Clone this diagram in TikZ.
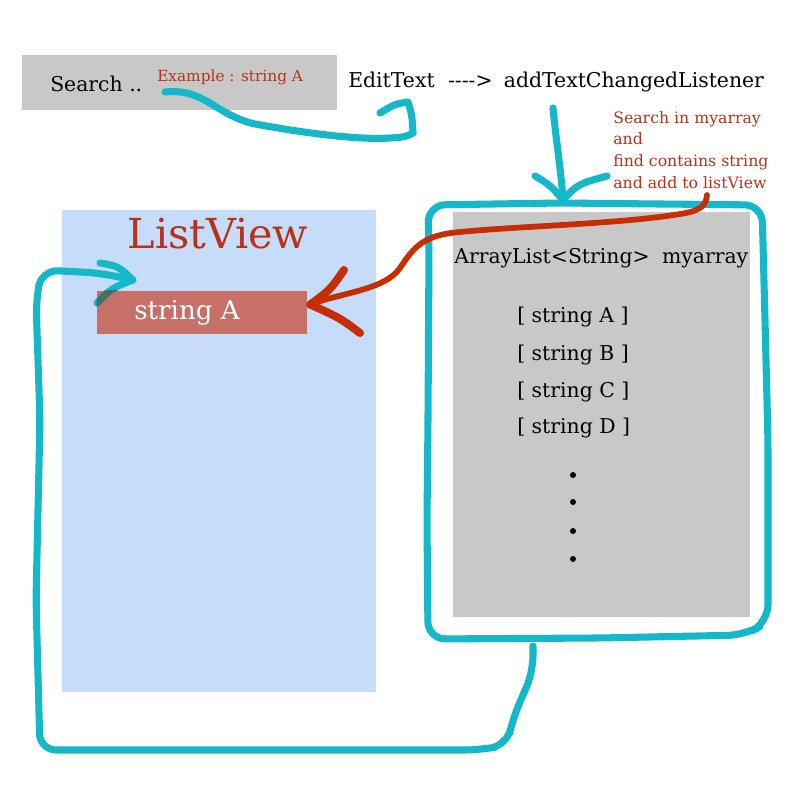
\documentclass[tikz,border=0pt]{standalone}
\usepackage{fontspec}
\setmainfont{DejaVu Serif}
\usetikzlibrary{positioning,calc,fit}

\definecolor{panelgray}{RGB}{200,200,200}
\definecolor{listblue}{RGB}{197,220,250}
\definecolor{hitred}{RGB}{199,112,104}
\definecolor{notered}{RGB}{183,50,25}
\definecolor{penred}{RGB}{200,45,0}
\definecolor{pencyan}{RGB}{20,184,200}
\definecolor{pendark}{RGB}{70,115,95}

\begin{document}
\begin{tikzpicture}[
    x=0.75pt, y=-0.75pt,
    panel/.style={fill=panelgray, inner sep=0pt},
    listpanel/.style={fill=listblue, inner sep=0pt},
    hitbox/.style={fill=hitred, inner sep=0pt},
    plain/.style={inner sep=0pt, font=\fontsize{15.3}{18}\selectfont},
    redsmall/.style={inner sep=0pt, text=notered, font=\fontsize{11.5}{13.5}\selectfont},
    note/.style={inner sep=0pt, text=notered, align=left, font=\fontsize{11.8}{16.3}\selectfont},
    title/.style={inner sep=0pt, text=notered, font=\fontsize{31}{36}\selectfont},
    hittext/.style={inner sep=0pt, text=white, font=\fontsize{19.6}{23}\selectfont},
    dot/.style={circle, fill=black, inner sep=0pt, minimum size=4.5pt},
    cyanpen/.style={draw=pencyan, line width=5.3pt, line cap=round, line join=round},
    redpen/.style={draw=penred, line width=4.3pt, line cap=round, line join=round}
  ]
    \useasboundingbox[fill=white] (0,0) rectangle (800,800);

    % boxes
    \node[panel, fit={(22,55) (337,110)}] (searchbox) {};
    \node[listpanel, fit={(62,210) (376,692)}] (listbox) {};
    \node[panel, fit={(453,212) (750,617)}] (arraybox) {};
    \node[hitbox, fit={(97,291) (307,334)}] (result) {};

    % texts
    \node[plain, anchor=base west] (searchtxt) at (50,91) {Search ..};
    \node[redsmall, anchor=base west] (example) at (157,81) {Example : string A};
    \node[plain, anchor=base west] (edittext) at (348,87)
      {EditText\hspace{0.65em}-{}-{}-{}->\hspace{0.55em}addTextChangedListener};
    \node[note, anchor=north west] (note) at (613,111)
      {Search in myarray\\and\\find contains string\\and add to listView};
    \node[title, anchor=base] (listtitle) at (218,248) {ListView};
    \node[hittext, anchor=base west] (hittxt) at (134,319) {string A};
    \node[plain, anchor=base west] (arrayhead) at (454,263) {ArrayList<String>\hspace{0.6em}myarray};
    \foreach \name/\y in {A/322, B/360, C/397, D/433}
      \node[plain, anchor=base west] (item\name) at (517,\y) {[ string \name\ ]};
    \foreach \i/\y in {1/475, 2/502, 3/531, 4/559}
      \node[dot] (dot\i) at (573,\y) {};

    % hand drawn frame round the array
    \draw[cyanpen, rounded corners=13] (428,420) -- (429,250) -- (428,205) -- (560,203)
      -- (762,205) -- (765,320) -- (768,440) -- (768,622) -- (745,635) -- (600,638)
      -- (428,639) -- (427,520) -- cycle;

    % ends of the hand drawn connectors
    \coordinate (tapstart) at (165,92);
    \coordinate (taptip) at (408,102);
    \coordinate (dropstart) at (553,108);
    \coordinate (droptip) at (563,200);
    \coordinate (loopstart) at (533,646);
    \coordinate (looptip) at (133,280);
    \coordinate (notetail) at (707,195);
    \coordinate (redtip) at ($(result.east)+(3,-8)$);

    % typing goes to the EditText
    \draw[cyanpen] (tapstart) .. controls (205,88) and (215,115) .. (255,124)
      .. controls (310,134) and (360,140) .. (390,138) .. controls (405,137) .. (413,133);
    \draw[cyanpen] (380,113) .. controls (395,104) .. (taptip) .. controls (412,115) .. (413,133);

    % listener drops into the array
    \draw[cyanpen] (dropstart) .. controls (556,140) and (561,170) .. (droptip);
    \draw[cyanpen] (535,176) .. controls (550,185) .. (droptip) .. controls (578,184) .. (607,176);

    % loop back into the ListView
    \draw[cyanpen, rounded corners=12] (loopstart) -- (533,672) -- (513,718) -- (507,745)
      -- (480,750) -- (40,750) -- (36,600) -- (40,420) -- (36,300) -- (42,270)
      -- (100,273) -- (looptip);
    \draw[cyanpen] (100,263) .. controls (118,266) .. (looptip) .. controls (112,288) .. (97,303);
    \begin{scope}
      \clip (result.south west) rectangle (result.north east);
      \draw[cyanpen, draw=pendark] (looptip) .. controls (112,288) .. (97,303);
    \end{scope}

    % found string goes to the ListView
    \draw[redpen] (notetail) .. controls (706,206) and (700,211) .. (680,214)
      .. controls (620,224) and (520,226) .. (460,232) .. controls (425,235) and (415,245) .. (400,268)
      .. controls (385,290) and (340,293) .. (redtip);
    \draw[redpen, line width=6pt] (344,270) .. controls (330,290) .. (redtip) .. controls (340,318) .. (360,333);
  \end{tikzpicture}
\end{document}
